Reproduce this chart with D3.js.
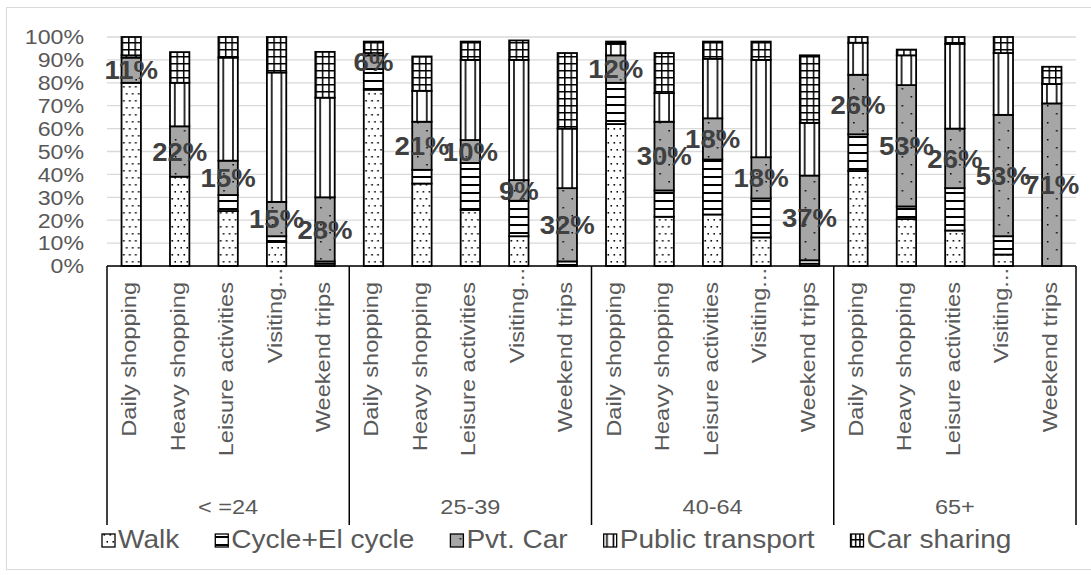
<!DOCTYPE html>
<html><head><meta charset="utf-8">
<script src="https://cdn.jsdelivr.net/npm/d3@7"></script>
<style>
body{margin:0;background:#fff;}
svg{display:block;font-family:"Liberation Sans",Arial,sans-serif;}
</style>
</head><body>
<svg id="chart" width="1091" height="575"></svg>
<script>
const groups = ["< =24", "25-39", "40-64", "65+"];
const categories = ["Daily shopping", "Heavy shopping", "Leisure activities", "Visiting...", "Weekend trips"];
const modes = ["Walk", "Cycle+El cycle", "Pvt. Car", "Public transport", "Car sharing"];
const walk            = [80, 39, 24, 10.5, 1,   77, 36, 24.5, 13, 0.5,   62, 21.5, 22.5, 12.5, 1,   41.5, 20.5, 15.5, 5, 0];
const cycle           = [0, 0, 7, 2.5, 1,       9, 6, 20.5, 15.5, 1.5,   18, 11.5, 24, 17, 1.5,     16, 5.5, 18.5, 8, 0];
const pvtCar          = [11, 22, 15, 15, 28,    6, 21, 10, 9, 32,        12, 30, 18, 18, 37,        26, 53, 26, 53, 71];
const publicTransport = [1, 19, 45, 56.5, 43.5, 1, 13.5, 35, 52.5, 26,   5, 12.5, 26, 42.5, 23,     14, 13, 37, 27, 8.5];
const carSharing      = [8, 13.4, 9, 15.5, 20,  5, 15, 8, 8.5, 33,       1, 17.5, 7.5, 8, 29.5,     2.5, 2.5, 3, 7, 7.5];
const yTicks = [0, 10, 20, 30, 40, 50, 60, 70, 80, 90, 100];

const keys = ["walk", "cycle", "car", "pt", "cs"];
const seriesArrays = [walk, cycle, pvtCar, publicTransport, carSharing];
const rows = [];
groups.forEach((g, gi) => categories.forEach((c, ci) => {
  const i = gi * categories.length + ci;
  const r = {idx: i, group: g, cat: c};
  keys.forEach((k, ki) => r[k] = seriesArrays[ki][i]);
  rows.push(r);
}));

const svg = d3.select("#chart");
const defs = svg.append("defs");
const plotL = 107, plotR = 1076, plotT = 37, plotB = 266;

const x = d3.scaleBand().domain(rows.map(d => d.idx)).range([plotL, plotR]).paddingInner(0.6).paddingOuter(0.3);
const y = d3.scaleLinear().domain([0, 100]).range([plotB, plotT]);
const bw = x.bandwidth();

// outer border
svg.append("rect").attr("x", 6.5).attr("y", 7.5).attr("width", 1100).attr("height", 562)
  .attr("fill", "none").attr("stroke", "#d9d9d9").attr("stroke-width", 1);

// patterns
function makePatterns(prefix, x0, w) {
  // walk
  let p = defs.append("pattern").attr("id", prefix + "walk").attr("patternUnits", "userSpaceOnUse")
    .attr("x", x0).attr("y", 0).attr("width", 6).attr("height", 14);
  p.append("rect").attr("width", 6).attr("height", 14).attr("fill", "#fff");
  p.append("rect").attr("x", 1.5).attr("y", 2).attr("width", 1.6).attr("height", 1.6).attr("fill", "#000");
  p.append("rect").attr("x", 4.5).attr("y", 9).attr("width", 1.6).attr("height", 1.6).attr("fill", "#000");
  // cycle
  p = defs.append("pattern").attr("id", prefix + "cycle").attr("patternUnits", "userSpaceOnUse")
    .attr("x", x0).attr("y", 0).attr("width", 20).attr("height", 8);
  p.append("rect").attr("width", 20).attr("height", 8).attr("fill", "#fff");
  p.append("rect").attr("y", 0).attr("width", 20).attr("height", 2).attr("fill", "#000");
  // car
  p = defs.append("pattern").attr("id", prefix + "car").attr("patternUnits", "userSpaceOnUse")
    .attr("x", x0).attr("y", 0).attr("width", w).attr("height", 17);
  p.append("rect").attr("width", w).attr("height", 17).attr("fill", "#a6a6a6");
  p.append("rect").attr("x", w * 0.25).attr("y", 3).attr("width", 1.5).attr("height", 1.5).attr("fill", "#000");
  p.append("rect").attr("x", w * 0.72).attr("y", 11).attr("width", 1.5).attr("height", 1.5).attr("fill", "#000");
  // public transport
  const pw = w / 2;
  p = defs.append("pattern").attr("id", prefix + "pt").attr("patternUnits", "userSpaceOnUse")
    .attr("x", x0).attr("y", 0).attr("width", pw).attr("height", 10);
  p.append("rect").attr("width", pw).attr("height", 10).attr("fill", "#fff");
  p.append("rect").attr("x", pw / 2 - 0.8).attr("width", 1.6).attr("height", 10).attr("fill", "#000");
  // car sharing grid
  const cw = w / 3;
  p = defs.append("pattern").attr("id", prefix + "cs").attr("patternUnits", "userSpaceOnUse")
    .attr("x", x0).attr("y", 0).attr("width", cw).attr("height", 7);
  p.append("rect").attr("width", cw).attr("height", 7).attr("fill", "#fff");
  p.append("rect").attr("x", 0).attr("width", 1.5).attr("height", 7).attr("fill", "#000");
  p.append("rect").attr("y", 0).attr("width", cw).attr("height", 1.5).attr("fill", "#000");
}

// gridlines
svg.append("g").selectAll("line").data(yTicks).join("line")
  .attr("x1", plotL).attr("x2", plotR)
  .attr("y1", d => y(d)).attr("y2", d => y(d))
  .attr("stroke", "#d9d9d9").attr("stroke-width", 1.3);

// y tick labels
svg.append("g").selectAll("text").data(yTicks).join("text")
  .attr("transform", d => `translate(84,${y(d) + 7.3}) scale(1.13,1)`)
  .attr("text-anchor", "end").attr("font-size", 20.5).attr("fill", "#595959")
  .text(d => d + "%");

// bars
rows.forEach(r => makePatterns("b" + r.idx + "_", x(r.idx), bw));
const stack = d3.stack().keys(keys)(rows);
const barG = svg.append("g");
stack.forEach(layer => {
  barG.append("g").selectAll("rect").data(layer.filter(d => d[1] - d[0] > 0)).join("rect")
    .attr("x", d => x(d.data.idx))
    .attr("y", d => y(d[1]))
    .attr("width", bw)
    .attr("height", d => y(d[0]) - y(d[1]))
    .attr("fill", d => `url(#b${d.data.idx}_${layer.key})`)
    .attr("stroke", "#000").attr("stroke-width", 1.8);
});

// axis line and group separators
svg.append("line").attr("x1", plotL).attr("x2", plotR).attr("y1", plotB).attr("y2", plotB)
  .attr("stroke", "#000").attr("stroke-width", 1.5);
const groupStep = (plotR - plotL) / groups.length;
svg.append("g").selectAll("line").data(d3.range(groups.length + 1)).join("line")
  .attr("x1", d => plotL + d * groupStep).attr("x2", d => plotL + d * groupStep)
  .attr("y1", plotB).attr("y2", 525)
  .attr("stroke", "#000").attr("stroke-width", 1.5);

// category labels (rotated)
svg.append("g").selectAll("text").data(rows).join("text")
  .attr("transform", d => `translate(${x(d.idx) + bw / 2 + 5},${d.cat === "Visiting..." ? 268 : 282}) rotate(-90) scale(1.18,1)`)
  .attr("text-anchor", "end").attr("font-size", 20).attr("fill", "#595959")
  .text(d => d.cat);

// group labels
svg.append("g").selectAll("text").data(groups).join("text")
  .attr("transform", (d, i) => `translate(${plotL + (i + 0.5) * groupStep},514) scale(1.12,1)`)
  .attr("text-anchor", "middle").attr("font-size", 21).attr("fill", "#595959")
  .text(d => d);

// data labels for Pvt. Car
const carLayer = stack[2];
svg.append("g").selectAll("text").data(carLayer).join("text")
  .attr("transform", d => `translate(${x(d.data.idx) + bw / 2},${(y(d[0]) + y(d[1])) / 2 + 9.2}) scale(1.08,1)`)
  .attr("text-anchor", "middle").attr("font-size", 25.5).attr("font-weight", "bold").attr("fill", "#404040")
  .text(d => Math.round(d.data.car) + "%");

// legend
const leg = svg.append("g");
let lx = 102;
modes.forEach((m, i) => {
  const sw = 13;
  makePatterns("lg" + i + "_", lx, sw);
  leg.append("rect").attr("x", lx).attr("y", 534).attr("width", sw).attr("height", sw)
    .attr("fill", `url(#lg${i}_${keys[i]})`).attr("stroke", "#000").attr("stroke-width", 1.3);
  const t = leg.append("text")
    .attr("transform", `translate(${lx + sw + 3},548.3) scale(1.1,1)`)
    .attr("font-size", 25.5).attr("fill", "#595959").text(m);
  const tw = t.node().getComputedTextLength() * 1.1;
  lx = lx + sw + 3 + tw + 36;
});
</script>
</body></html>
